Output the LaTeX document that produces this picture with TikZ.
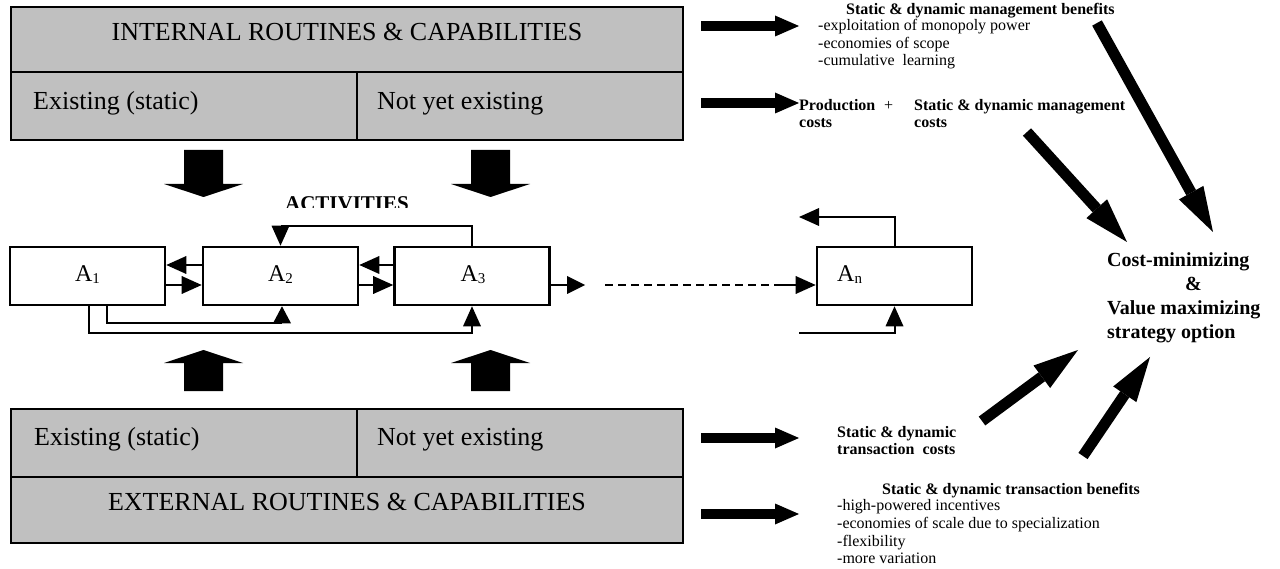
\documentclass[tikz,border=0pt]{standalone}
\usepackage{fontspec}
\setmainfont{Liberation Serif}
\usetikzlibrary{arrows.meta}
\definecolor{capgray}{RGB}{192,192,192}
\newcommand{\fsz}[1]{\fontsize{#1}{#1}\selectfont}
\newcommand{\actsub}[1]{\raisebox{-2pt}{\fsz{15}#1}}
\tikzset{
  capcell/.style={draw, line width=2.5pt, fill=capgray, inner sep=0pt, outer sep=0pt},
  captext/.style={inner sep=0pt, font=\fsz{26}},
  actbox/.style={draw, line width=2.6pt, fill=white, minimum width=155pt,
                 minimum height=58pt, inner sep=0pt},
  actlabel/.style={inner sep=0pt, anchor=base, font=\fsz{24}},
  conn/.style={line width=2pt, -{Triangle[length=20pt,width=18pt,line width=0pt]}},
  flow/.style={line width=10pt, -{Triangle[length=24pt,width=21pt,line width=0pt]}},
  bigflow/.style={line width=11pt, -{Triangle[length=45pt,width=28pt,line width=0pt]}},
  note/.style={inner sep=0pt, anchor=base west, font=\fsz{16}},
  notebold/.style={inner sep=0pt, anchor=base west, font=\bfseries\fsz{16}},
  goal/.style={inner sep=0pt, anchor=base west, font=\bfseries\fsz{20}},
}
\begin{document}
\begin{tikzpicture}[x=1pt,y=-1pt]
\useasboundingbox (0,0) rectangle (1280,569);

% internal routines & capabilities
\node[capcell, minimum width=672pt, minimum height=65pt] (intitle) at (347,39.5) {};
\node[capcell, minimum width=346pt, minimum height=68pt] (inold) at (184,106) {};
\node[capcell, minimum width=326pt, minimum height=68pt] (innew) at (520,106) {};
\node[captext, anchor=base] (intitletxt) at (347,41) {INTERNAL ROUTINES \& CAPABILITIES};
\node[captext, anchor=base west] (inoldtxt) at (33,110) {Existing (static)};
\node[captext, anchor=base west] (innewtxt) at (377,110) {Not yet existing};

% external routines & capabilities
\node[capcell, minimum width=346pt, minimum height=68pt] (exold) at (184,443) {};
\node[capcell, minimum width=326pt, minimum height=68pt] (exnew) at (520,443) {};
\node[capcell, minimum width=672pt, minimum height=66pt] (extitle) at (347,510) {};
\node[captext, anchor=base west] (exoldtxt) at (34,445) {Existing (static)};
\node[captext, anchor=base west] (exnewtxt) at (377,445) {Not yet existing};
\node[captext, anchor=base] (extitletxt) at (347,510) {EXTERNAL ROUTINES \& CAPABILITIES};

% block arrows into the activity chain
\fill (184,150) -- (223,150) -- (223,184) -- (243,184) -- (203.5,197) -- (164,184) -- (184,184) -- cycle;
\fill (471,150) -- (510,150) -- (510,184) -- (530,184) -- (490.5,197) -- (451,184) -- (471,184) -- cycle;
\fill (184,391) -- (223,391) -- (223,363) -- (243,363) -- (203.5,350) -- (164,363) -- (184,363) -- cycle;
\fill (471,391) -- (510,391) -- (510,363) -- (530,363) -- (490.5,350) -- (451,363) -- (471,363) -- cycle;

% activities heading, cut off at its lower edge
\begin{scope}
  \clip (270,190) rectangle (425,207.5);
  \node[inner sep=0pt, anchor=base, font=\bfseries\fsz{21}] (acts) at (347,211) {ACTIVITIES};
\end{scope}

% activity boxes
\node[actbox] (a1) at (87.5,276) {};
\node[actbox] (a2) at (280.5,276) {};
\node[actbox] (a3) at (472,276) {};
\node[actbox] (an) at (894.5,276) {};
\node[actlabel] (a1txt) at (87.5,282) {A\actsub{1}};
\node[actlabel] (a2txt) at (280.5,282) {A\actsub{2}};
\node[actlabel] (a3txt) at (473,282) {A\actsub{3}};
\node[actlabel, anchor=base west] (antxt) at (837,282) {A\actsub{n}};

% links between activities
\draw[conn] ([yshift=11pt]a2.west) -- ([yshift=11pt]a1.east);
\draw[conn] ([yshift=-9pt]a1.east) -- ([yshift=-9pt]a2.west);
\draw[conn] ([yshift=11pt]a3.west) -- ([yshift=11pt]a2.west -| a2.east);
\draw[conn] ([yshift=-9pt]a2.east) -- ([yshift=-9pt]a3.west);
\coordinate (a3out) at (585,285);
\draw[conn, -{Triangle[length=18pt,width=18pt,line width=0pt]}] ([yshift=-9pt]a3.east) -- (a3out);
\coordinate (dstart) at (605,285);
\coordinate (dend) at (779,285);
\draw[line width=2pt, dash pattern=on 8pt off 5pt] (dstart) -- (dend);
\draw[conn] (dend) -- ([yshift=-9pt]an.west);
\draw[conn] (a3.north) -- ++(0,-20) -| (a2.north);
\draw[conn, -{Triangle[length=17pt,width=18pt,line width=0pt]}] ([xshift=19.5pt]a1.south) -- ++(0,17) -| ([xshift=1.5pt]a2.south);
\draw[conn] ([xshift=1.5pt]a1.south) -- ++(0,27) -| (a3.south);
\coordinate (anback) at (799,217);
\draw[conn] (an.north) |- (anback);
\coordinate (anin) at (799,333);
\draw[conn] (anin) -| (an.south);

% outcomes of the routines
\coordinate (f1s) at (701,26);   \coordinate (f1e) at (799,26);
\coordinate (f2s) at (701,103);  \coordinate (f2e) at (799,103);
\coordinate (f3s) at (701,438);  \coordinate (f3e) at (799,438);
\coordinate (f4s) at (701,514);  \coordinate (f4e) at (799,514);
\draw[flow] (f1s) -- (f1e);
\draw[flow] (f2s) -- (f2e);
\draw[flow] (f3s) -- (f3e);
\draw[flow] (f4s) -- (f4e);

\node[notebold] (mbtitle) at (846,15) {Static \& dynamic management benefits};
\node[note] (mb1) at (818,31) {-exploitation of monopoly power};
\node[note] (mb2) at (818,48.5) {-economies of scope};
\node[note] (mb3) at (818,66) {-cumulative\ \ learning};

\node[notebold] (prod1) at (799,111) {Production};
\node[notebold] (prod2) at (799,128) {costs};
\node[note] (plus) at (884,111) {+};
\node[notebold] (mc1) at (914,111) {Static \& dynamic management};
\node[notebold] (mc2) at (914,128) {costs};

\node[notebold] (tc1) at (837,437) {Static \& dynamic};
\node[notebold] (tc2) at (837,454) {transaction\ \ costs};

\node[notebold] (tbtitle) at (882,494) {Static \& dynamic transaction benefits};
\node[note] (tb1) at (837,510) {-high-powered incentives};
\node[note] (tb2) at (837,528) {-economies of scale due to specialization};
\node[note] (tb3) at (837,546) {-flexibility};
\node[note] (tb4) at (837,563) {-more variation};

% strategy option
\node[goal] (g1) at (1107,267) {Cost-minimizing};
\node[goal] (g2) at (1185,291) {\&};
\node[goal] (g3) at (1107,315) {Value maximizing};
\node[goal] (g4) at (1107,338) {strategy option};

\coordinate (dA) at (1097,23);   \coordinate (dAe) at (1213,232);
\coordinate (dB) at (1027,132);  \coordinate (dBe) at (1127,242);
\coordinate (dC) at (982,421);   \coordinate (dCe) at (1078,350);
\coordinate (dD) at (1083,456);  \coordinate (dDe) at (1150,357);
\draw[bigflow] (dA) -- (dAe);
\draw[bigflow] (dB) -- (dBe);
\draw[bigflow] (dC) -- (dCe);
\draw[bigflow] (dD) -- (dDe);
\end{tikzpicture}
\end{document}
